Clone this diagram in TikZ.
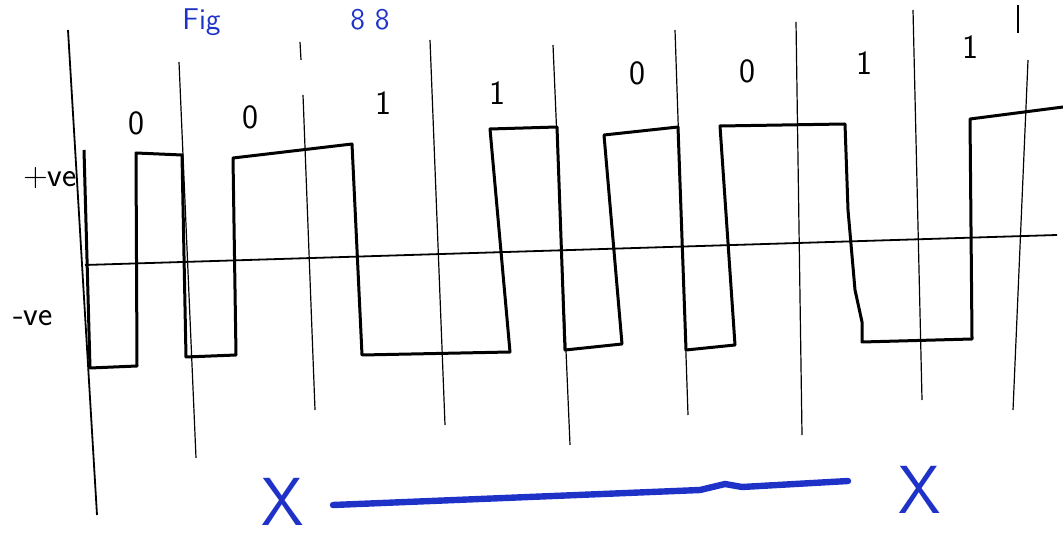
\documentclass[tikz,border=0pt]{standalone}
\usetikzlibrary{positioning}
\definecolor{pen}{RGB}{30,50,200}

\begin{document}
\begin{tikzpicture}[x=0.5pt,y=-0.5pt,
  wave/.style={line width=1.5pt, line join=round},
  gridline/.style={line width=0.6pt},
  bit/.style={font=\sffamily\fontsize{17}{19}\selectfont},
  level/.style={font=\sffamily\fontsize{17}{19}\selectfont, anchor=west},
  ink/.style={pen, line width=3.2pt, line cap=round},
  crossmark/.style={pen, font=\sffamily\fontsize{34}{36}\selectfont, inner sep=0pt},
  caption/.style={pen, font=\sffamily\fontsize{15}{17}\selectfont, anchor=base west, inner sep=0pt}]

\useasboundingbox (0,0) rectangle (1063,544);

%% title
\node[caption] (title) at (182,30) {Fig};
\node[caption] (titlenum) at (350,30) {8 8};

%% axes
\draw[line width=0.9pt] (68,30) --(97,515);
\draw[line width=0.9pt] (85,265) --(1057,235);

%% bit boundaries
\draw[gridline] (179,62) --(196,458);
\draw[gridline] (300,42) --(301,60);
\draw[gridline] (303,95) --(315,410);
\draw[gridline] (430,40) --(445,425);
\draw[gridline] (553,45) --(570,445);
\draw[gridline] (675,30) --(688,415);
\draw[gridline] (796,22) --(802,435);
\draw[gridline] (913,10) --(922,400);
\draw[gridline] (1018,5) --(1018,33);
\draw[gridline] (1028,60) --(1022,200) --(1013,410);

%% levels
\node[level] (pos) at (16,178) {+ve};
\node[level] (neg) at (6,318) {-ve};

%% bits
\node[bit] (b1) at (136,123) {0};
\node[bit] (b2) at (250,117) {0};
\node[bit] (b3) at (383,103) {1};
\node[bit] (b4) at (497,93) {1};
\node[bit] (b5) at (637,73) {0};
\node[bit] (b6) at (747,71) {0};
\node[bit] (b7) at (864,63) {1};
\node[bit] (b8) at (970,47) {1};

%% signal
\draw[wave] (84,150) --(90,368) --(137,366) --(136,153) --(182,155)
  --(186,357) --(236,355) --(233,158) --(352,144) --(362,355)
  --(510,352) --(490,129) --(557,127) --(565,350) --(622,344)
  --(604,135) --(678,127) --(686,350) --(735,345) --(720,126)
  --(845,124) --(848,210) --(855,290) --(862,322) --(862,342) --(972,339)
  --(970,119) --(1063,107);

%% span
\node[crossmark] (xl) at (283,502) {X};
\node[crossmark] (xr) at (920,490) {X};
\coordinate (spanL) at (333,505);
\coordinate (spanR) at (848,481);
\draw[ink] (spanL) --(700,490) --(725,484) --(742,487) --(spanR);

\end{tikzpicture}
\end{document}
